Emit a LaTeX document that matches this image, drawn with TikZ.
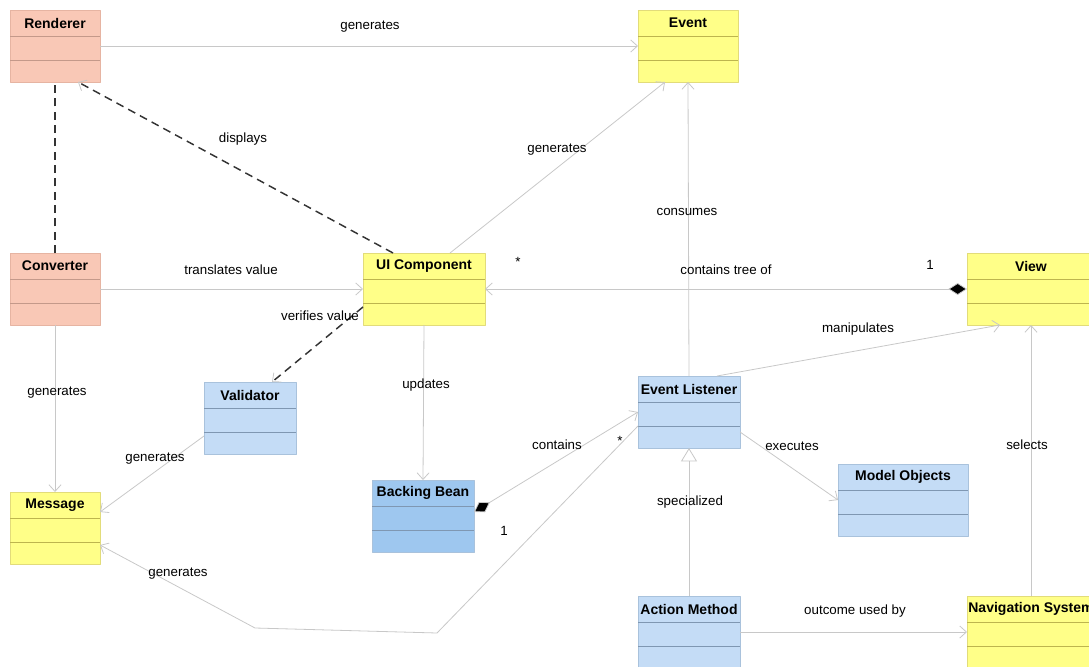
\documentclass[tikz,border=0pt]{standalone}
\usepackage{fontspec}
\setsansfont{Liberation Sans}
\usetikzlibrary{arrows.meta,calc}

\definecolor{pinkfill}{HTML}{F9C8B6}
\definecolor{pinkline}{HTML}{E6B4A2}
\definecolor{pinksep}{HTML}{C4998A}
\definecolor{yellowfill}{HTML}{FFFF88}
\definecolor{yellowline}{HTML}{E2DC7A}
\definecolor{yellowsep}{HTML}{BDB54E}
\definecolor{bluefill}{HTML}{C4DCF6}
\definecolor{blueline}{HTML}{A9C2DC}
\definecolor{bluesep}{HTML}{7F97B2}
\definecolor{beanfill}{HTML}{9EC7EF}
\definecolor{linkgray}{HTML}{C8C8C8}
\definecolor{dashgray}{HTML}{333333}

\tikzset{
  umlclass/.style={draw=#1, line width=0.6pt, rectangle, inner sep=0pt, outer sep=0pt,
    minimum height=54pt, anchor=north west},
  classtitle/.style={font=\sffamily\bfseries\fontsize{10.5}{12}\selectfont, inner sep=0pt},
  lbl/.style={font=\sffamily\fontsize{10}{12}\selectfont, inner sep=1pt},
  link/.style={draw=linkgray, line width=0.6pt, -{Straight Barb[length=5pt,width=9pt]}},
  dlink/.style={draw=dashgray, line width=1.1pt, dash pattern=on 6pt off 4pt},
  dlinkto/.style={dlink, -{Straight Barb[length=5pt,width=9pt,color=linkgray,line width=0.6pt]}},
  owner/.style={{Diamond[length=14pt,width=9pt,fill=black]}-{Straight Barb[length=5pt,width=9pt]}},
}

% name, x, y, width (px), fill, border, separator, title
\newcommand{\umlbox}[8]{%
  \node[umlclass=#6, fill=#5, minimum width=#4*0.75pt] (#1) at (#2,#3) {};
  \node[classtitle] (#1-title) at ($(#1.north)+(0,13)$) {#8};
  \draw[#7, line width=0.6pt] ($(#1.north west)+(0,26)$) -- ($(#1.north east)+(0,26)$)
    ($(#1.north west)+(0,50)$) -- ($(#1.north east)+(0,50)$);
}

\begin{document}
\begin{tikzpicture}[x=0.75pt, y=-0.75pt, line join=round]
  \useasboundingbox (0,0) rectangle (1089,667);
  \clip (0,0) rectangle (1089,667);

  % classes
  \umlbox{renderer}{10}{10}{90}{pinkfill}{pinkline}{pinksep}{Renderer}
  \umlbox{event}{638}{10}{100}{yellowfill}{yellowline}{yellowsep}{Event}
  \umlbox{converter}{10}{253}{90}{pinkfill}{pinkline}{pinksep}{Converter}
  \umlbox{ui}{363}{253}{122}{yellowfill}{yellowline}{yellowsep}{UI Component}
  \umlbox{view}{967}{253}{128}{yellowfill}{yellowline}{yellowsep}{View}
  \umlbox{validator}{204}{382}{92}{bluefill}{blueline}{bluesep}{Validator}
  \umlbox{message}{10}{492}{90}{yellowfill}{yellowline}{yellowsep}{Message}
  \umlbox{bean}{372}{480}{102}{beanfill}{blueline}{bluesep}{Backing Bean}
  \umlbox{listener}{638}{376}{102}{bluefill}{blueline}{bluesep}{Event Listener}
  \umlbox{model}{838}{464}{130}{bluefill}{blueline}{bluesep}{Model Objects}
  \umlbox{action}{638}{596}{102}{bluefill}{blueline}{bluesep}{Action Method}
  \umlbox{nav}{967}{596}{128}{yellowfill}{yellowline}{yellowsep}{Navigation System}

  % connectors
  \draw[link] (renderer.east) -- (event.west);
  \draw[dlinkto] ($(ui.north)+(-31,0)$) -- ($(renderer.south)+(23,0)$);
  \draw[dlink] (converter.north) -- (renderer.south);
  \draw[link] ($(ui.north)+(26,0)$) -- ($(event.south)+(-23,0)$);
  \draw[link] (listener.north) -- (event.south);
  \draw[link, owner] (view.west) -- (ui.east);
  \draw[link] (converter.east) -- (ui.west);
  \draw[dlinkto] ($(ui.west)+(0,18)$) -- ($(validator.north)+(22,0)$);
  \draw[link] (converter.south) -- (message.north);
  \draw[link] ($(validator.south west)+(0,-18)$) -- ($(message.north east)+(0,20)$);
  \draw[link] (ui.south) -- (bean.north);
  \draw[link, owner] ($(bean.east)+(0,-4)$) -- (listener.west);
  \draw[link] ($(listener.north)+(28,0)$) -- ($(view.south west)+(33,0)$);
  \draw[link] ($(listener.east)+(0,20)$) -- (model.west);
  \draw[draw=linkgray, line width=0.6pt, -{Triangle[open,length=10pt,width=12pt,fill=white]}]
    (action.north) -- (listener.south);
  \draw[link] (action.east) -- (nav.west);
  \draw[link] (nav.north) -- (view.south);
  \coordinate (bendA) at (437,633);
  \coordinate (bendB) at (255,628);
  \draw[link] ($(listener.west)+(0,14)$) -- (bendA) -- (bendB) -- ($(message.east)+(0,17)$);

  % labels
  \node[lbl] (t1) at (370,27) {generates};
  \node[lbl] (t2) at (243,139) {displays};
  \node[lbl] (t3) at (557,150) {generates};
  \node[lbl] (t4) at (687,212) {consumes};
  \node[lbl] (t5) at (231,270) {translates value};
  \node[lbl] (t6) at (726,270) {contains tree of};
  \node[lbl] (m1) at (518,262) {*};
  \node[lbl] (m2) at (930,265) {1};
  \node[lbl] (t7) at (320,316) {verifies value};
  \node[lbl] (t8) at (858,329) {manipulates};
  \node[lbl] (t9) at (57,393) {generates};
  \node[lbl] (t10) at (426,385) {updates};
  \node[lbl] (t11) at (155,459) {generates};
  \node[lbl] (t12) at (557,445) {contains};
  \node[lbl] (m3) at (620,441) {*};
  \node[lbl] (m4) at (504,531) {1};
  \node[lbl] (t13) at (792,446) {executes};
  \node[lbl] (t14) at (690,502) {specialized};
  \node[lbl] (t15) at (178,574) {generates};
  \node[lbl] (t16) at (855,611) {outcome used by};
  \node[lbl] (t17) at (1027,445) {selects};
\end{tikzpicture}
\end{document}
